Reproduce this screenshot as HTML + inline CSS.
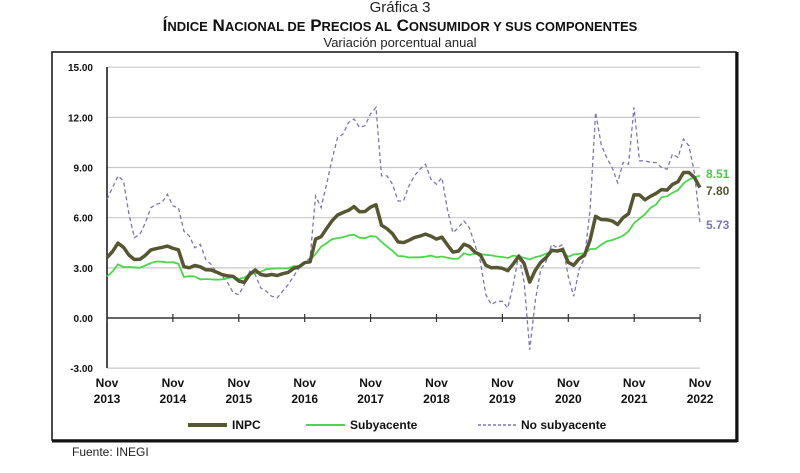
<!DOCTYPE html>
<html><head><meta charset="utf-8"><style>
body{margin:0;background:#fff;width:800px;height:468px;overflow:hidden;font-family:"Liberation Sans",Arial,sans-serif}
</style></head><body>
<svg width="800" height="468" xmlns="http://www.w3.org/2000/svg" font-family="Liberation Sans, Arial, sans-serif">
<text x="400" y="12" text-anchor="middle" font-size="15" fill="#222">Gráfica 3</text>
<text x="400" y="31" text-anchor="middle" font-size="17" font-weight="bold" fill="#111">Í<tspan font-size="13">NDICE</tspan> N<tspan font-size="13">ACIONAL DE</tspan> P<tspan font-size="13">RECIOS AL</tspan> C<tspan font-size="13">ONSUMIDOR Y SUS COMPONENTES</tspan></text>
<text x="400" y="47" text-anchor="middle" font-size="13" fill="#222">Variación porcentual anual</text>
<rect x="52" y="52" width="684" height="388" fill="none" stroke="#111" stroke-width="1.5"/>
<line x1="737" y1="52" x2="737" y2="442" stroke="#111" stroke-width="3"/>
<line x1="52" y1="441" x2="737" y2="441" stroke="#111" stroke-width="3"/>
<g id="grid" stroke="#c8c8c8" stroke-width="1.2"></g>
<g id="ylab" font-size="10" font-weight="bold" fill="#111" text-anchor="end"></g>
<line x1="107" y1="67" x2="107" y2="368" stroke="#111" stroke-width="1.5"/>
<line x1="107" y1="318" x2="700" y2="318" stroke="#333" stroke-width="1.5"/>
<g id="ticks" stroke="#333" stroke-width="1.2"></g>
<g id="xlab" font-size="12" font-weight="bold" fill="#111" text-anchor="middle"></g>
<g id="series"></g>
<text x="706" y="178" font-size="12" font-weight="bold" fill="#4cc94c">8.51</text>
<text x="706" y="195" font-size="12" font-weight="bold" fill="#555535">7.80</text>
<text x="706" y="229" font-size="12" font-weight="bold" fill="#7b76b5">5.73</text>
<line x1="188" y1="425" x2="227" y2="425" stroke="#565633" stroke-width="4"/>
<text x="232" y="429" font-size="12" font-weight="bold" fill="#111">INPC</text>
<line x1="306" y1="425" x2="345" y2="425" stroke="#4cd64c" stroke-width="2"/>
<text x="350" y="429" font-size="12" font-weight="bold" fill="#111">Subyacente</text>
<line x1="478" y1="425" x2="517" y2="425" stroke="#7b76b5" stroke-width="1.5" stroke-dasharray="3,2"/>
<text x="521" y="429" font-size="12" font-weight="bold" fill="#111">No subyacente</text>
<text x="72" y="456" font-size="12" fill="#222">Fuente: INEGI</text>
</svg>
<script>
const NS="http://www.w3.org/2000/svg";
function el(p,t,a,txt){const e=document.createElementNS(NS,t);for(const k in a)e.setAttribute(k,a[k]);if(txt!==undefined)e.textContent=txt;document.getElementById(p).appendChild(e);}
const Y=v=>318-v*16.72, X=i=>107+i*5.49;
[15,12,9,6,3,-3].forEach(v=>el("grid","line",{x1:107,x2:700,y1:Y(v),y2:Y(v)}));
[15,12,9,6,3,0,-3].forEach(v=>el("ylab","text",{x:93,y:Y(v)+4},v.toFixed(2)));
for(let k=0;k<10;k++){const x=107+k*65.9;el("ticks","line",{x1:x,x2:x,y1:314,y2:322});
el("xlab","text",{x:x,y:387},"Nov");el("xlab","text",{x:x,y:403},String(2013+k));}
const inpc=[3.62,3.97,4.48,4.23,3.76,3.50,3.51,3.75,4.07,4.15,4.22,4.30,4.17,4.08,3.07,3.00,3.14,3.06,2.88,2.87,2.74,2.59,2.52,2.48,2.21,2.13,2.61,2.87,2.60,2.54,2.60,2.54,2.65,2.73,2.97,3.06,3.31,3.36,4.72,4.86,5.35,5.82,6.16,6.31,6.44,6.66,6.35,6.37,6.63,6.77,5.55,5.34,5.04,4.55,4.51,4.65,4.81,4.90,5.02,4.90,4.72,4.83,4.37,3.94,4.00,4.41,4.28,3.95,3.78,3.16,3.00,3.02,2.97,2.83,3.24,3.70,3.25,2.15,2.84,3.33,3.62,4.05,4.01,4.09,3.33,3.15,3.54,3.76,4.67,6.08,5.89,5.88,5.81,5.59,6.00,6.24,7.37,7.36,7.07,7.28,7.45,7.68,7.65,7.99,8.15,8.70,8.70,8.41,7.80];
const sub=[2.48,2.78,3.21,3.04,3.05,3.03,3.00,3.14,3.29,3.38,3.37,3.32,3.34,3.24,2.45,2.50,2.48,2.31,2.33,2.31,2.29,2.31,2.39,2.47,2.34,2.41,2.64,2.66,2.76,2.92,2.95,2.97,2.96,2.97,3.10,3.10,3.29,3.44,3.84,4.26,4.48,4.72,4.78,4.83,4.94,4.98,4.80,4.77,4.90,4.87,4.56,4.27,4.02,3.71,3.69,3.62,3.63,3.63,3.67,3.73,3.63,3.68,3.60,3.54,3.55,3.87,3.77,3.85,3.82,3.78,3.75,3.68,3.65,3.59,3.73,3.66,3.60,3.50,3.64,3.71,3.85,3.97,3.99,3.98,3.66,3.80,3.84,3.87,4.12,4.13,4.37,4.58,4.66,4.78,4.92,5.19,5.67,5.94,6.21,6.59,6.78,7.22,7.28,7.49,7.65,8.05,8.28,8.42,8.51];
const nos=[7.1,7.8,8.5,8.2,6.2,4.8,5.0,5.7,6.6,6.8,6.9,7.4,6.7,6.6,5.2,4.9,4.2,4.4,3.5,3.2,2.7,2.5,2.1,1.5,1.4,2.0,2.8,2.6,1.8,1.6,1.3,1.2,1.6,2.0,2.5,3.0,3.3,3.6,7.3,6.6,8.0,9.5,10.8,11.0,11.7,11.9,11.4,11.5,12.2,12.6,8.5,8.5,8.0,7.0,7.0,7.9,8.5,8.9,9.2,8.3,8.0,8.4,6.5,5.1,5.4,5.8,5.4,4.4,3.4,1.4,0.8,1.0,1.0,0.6,2.0,3.8,2.1,-1.9,1.0,2.9,3.4,4.4,4.2,4.4,2.5,1.3,2.9,3.6,6.5,12.3,10.4,9.6,9.0,8.1,9.3,9.2,12.6,9.4,9.4,9.3,9.3,9.0,8.9,9.8,9.6,10.7,10.3,8.7,5.73];
const pts=a=>a.map((v,i)=>X(i).toFixed(1)+","+Y(v).toFixed(1)).join(" ");
el("series","polyline",{points:pts(nos),fill:"none",stroke:"#7b76b5","stroke-width":1.3,"stroke-dasharray":"4,3"});
el("series","polyline",{points:pts(sub),fill:"none",stroke:"#4cd64c","stroke-width":1.8});
el("series","polyline",{points:pts(inpc),fill:"none",stroke:"#565633","stroke-width":3.5,"stroke-linejoin":"round"});
</script>
</body></html>
